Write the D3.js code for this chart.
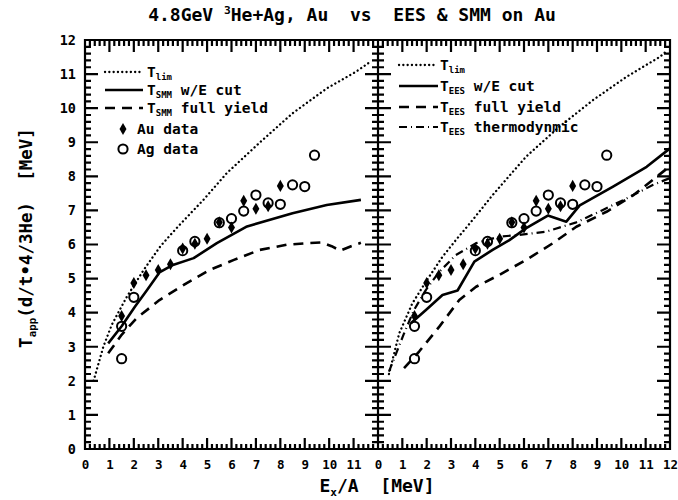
<!DOCTYPE html>
<html>
<head>
<meta charset="utf-8">
<script src="https://cdn.jsdelivr.net/npm/d3@7"></script>
<style>
    body { margin: 0; background: #fff; }
    text { font-family: "DejaVu Sans Mono", monospace; font-weight: bold; fill: #000; }
</style>
</head>
<body>
<div id="chart"></div>
<script>
const width = 678, height = 500;

// axis ticks
const majorTicks = d3.range(0, 13);
const minorTicks = d3.range(0, 60).map(i => i * 0.2).filter(v => Math.abs(v - Math.round(v)) > 0.01);
const leftXLabels = d3.range(0, 12);
const rightXLabels = d3.range(0, 13);
const yLabels = d3.range(0, 13);

// data points (same in both panels)
const auX = [1.5, 2.0, 2.5, 3.0, 3.5, 4.0, 4.5, 5.0, 5.5, 6.0, 6.5, 7.0, 7.5, 8.0];
const auT = [3.9, 4.87, 5.1, 5.25, 5.42, 5.88, 6.02, 6.17, 6.65, 6.5, 7.28, 7.05, 7.12, 7.72];
const agX = [1.5, 1.5, 2.0, 4.0, 4.5, 5.5, 6.0, 6.5, 7.0, 7.5, 8.0, 8.5, 9.0, 9.4];
const agT = [2.65, 3.6, 4.45, 5.82, 6.09, 6.64, 6.76, 6.98, 7.45, 7.22, 7.18, 7.75, 7.7, 8.62];

// left panel curves
const limLeftX = [0.35, 0.75, 1.1, 1.7, 2.4, 3.1, 3.8, 4.85, 5.8, 7.2, 8.5, 9.9, 11.1, 11.6];
const limLeftT = [2.0, 3.0, 3.65, 4.45, 5.25, 5.96, 6.52, 7.31, 8.09, 9.02, 9.85, 10.58, 11.07, 11.32];
const smmCutX = [0.95, 1.5, 2.05, 2.55, 3.05, 3.6, 4.45, 5.4, 6.6, 8.5, 9.9, 11.3];
const smmCutT = [3.1, 3.6, 4.18, 4.67, 5.18, 5.4, 5.6, 6.04, 6.52, 6.92, 7.16, 7.31];
const smmFullX = [0.95, 1.5, 2.1, 3.05, 4.15, 5.1, 6.1, 7.15, 8.25, 9.1, 9.7, 10.1, 10.45, 10.9, 11.3];
const smmFullT = [2.81, 3.35, 3.83, 4.37, 4.86, 5.25, 5.55, 5.84, 5.99, 6.04, 6.06, 5.95, 5.82, 5.95, 6.05];

// right panel curves
const limRightX = [0.45, 0.87, 1.41, 1.97, 2.65, 3.2, 3.89, 4.71, 6.09, 7.46, 8.84, 10.21, 11.59, 11.9];
const limRightT = [2.2, 3.39, 4.27, 4.91, 5.64, 6.13, 6.72, 7.45, 8.58, 9.46, 10.24, 10.92, 11.51, 11.7];
const eesCutX = [1.35, 1.97, 2.65, 3.27, 3.96, 4.71, 5.4, 6.09, 6.98, 7.74, 8.29, 9.66, 11.04, 12.0];
const eesCutT = [3.69, 4.08, 4.52, 4.65, 5.5, 5.84, 6.13, 6.48, 6.85, 6.67, 7.15, 7.7, 8.28, 8.82];
const eesFullX = [1.07, 1.69, 2.52, 3.34, 4.03, 4.99, 6.09, 7.19, 8.15, 9.39, 10.5, 11.3, 12.0];
const eesFullT = [2.37, 2.86, 3.59, 4.37, 4.76, 5.11, 5.55, 6.04, 6.52, 6.96, 7.45, 7.9, 8.3];
const eesThermoX = [0.45, 1.07, 1.48, 1.97, 2.52, 3.2, 4.03, 4.99, 5.81, 6.92, 8.15, 9.2, 10.21, 11.31, 12.0];
const eesThermoT = [2.27, 3.39, 4.08, 4.67, 5.2, 5.69, 6.04, 6.23, 6.28, 6.38, 6.65, 7.0, 7.35, 7.75, 7.95];

const styles = {
    dotted: {dash: "0.1,4.2", width: 2.3, cap: "round"},
    solid: {dash: null, width: 2.6, cap: "butt"},
    dashed: {dash: "10,7", width: 2.6, cap: "butt"},
    dashdot: {dash: "8,4,1,4", width: 2.2, cap: "butt"}
};

const y = d3.scaleLinear().domain([0, 12]).range([449, 40]);
const xLeft = d3.scaleLinear().domain([0, 12]).range([85, 378]);
const xRight = d3.scaleLinear().domain([0, 12]).range([378, 670]);

const svg = d3.select("#chart")
    .append("svg")
    .attr("width", width)
    .attr("height", height);

function zip(xs, ys) {
    return xs.map((v, i) => ({x: v, y: ys[i]}));
}

// frame, divider and all inward tick marks in one path
function framePath() {
    const p = d3.path();
    const top = y(12), bottom = y(0);
    p.rect(xLeft(0), top, xRight(12) - xLeft(0), bottom - top);
    p.moveTo(xRight(0), top);
    p.lineTo(xRight(0), bottom);

    [xLeft, xRight].forEach(x => {
        const x0 = x.range()[0], x1 = x.range()[1];
        [[majorTicks, 11, 13], [minorTicks, 5, 6]].forEach(([values, lx, ly]) => {
            values.forEach(v => {
                p.moveTo(x(v), bottom);
                p.lineTo(x(v), bottom - lx);
                p.moveTo(x(v), top);
                p.lineTo(x(v), top + lx + 1);
                p.moveTo(x0, y(v));
                p.lineTo(x0 + ly, y(v));
                p.moveTo(x1, y(v));
                p.lineTo(x1 - ly, y(v));
            });
        });
    });
    return p.toString();
}

function drawLabels(x, labels, isLeft) {
    svg.append("g")
        .attr("transform", "translate(0," + y(0) + ")")
        .call(d3.axisBottom(x).tickValues(labels).tickSize(0).tickPadding(11).tickFormat(d3.format("d")))
        .call(g => g.select(".domain").remove())
        .call(g => g.selectAll("text")
            .attr("font-family", "DejaVu Sans Mono")
            .attr("font-weight", "bold")
            .attr("font-size", 12.5));

    if (isLeft) {
        svg.append("g")
            .attr("transform", "translate(" + x.range()[0] + ",0)")
            .call(d3.axisLeft(y).tickValues(yLabels).tickSize(0).tickPadding(9).tickFormat(d3.format("d")))
            .call(g => g.select(".domain").remove())
            .call(g => g.selectAll("text")
                .attr("font-family", "DejaVu Sans Mono")
                .attr("font-weight", "bold")
                .attr("font-size", 13.5));
    }
}

function drawCurve(x, xs, ys, style) {
    const s = styles[style];
    svg.append("path")
        .datum(zip(xs, ys))
        .attr("fill", "none")
        .attr("stroke", "#000")
        .attr("stroke-width", s.width)
        .attr("stroke-linecap", s.cap)
        .attr("stroke-linejoin", "round")
        .attr("stroke-dasharray", s.dash)
        .attr("d", d3.line()
            .x(d => x(d.x))
            .y(d => y(d.y))
        );
}

function drawData(x) {
    svg.append("g")
        .selectAll("path")
        .data(zip(auX, auT))
        .enter()
        .append("path")
        .attr("transform", d => "translate(" + x(d.x) + "," + y(d.y) + ")")
        .attr("d", d3.symbol(d3.symbolDiamond, 42))
        .attr("fill", "#000");

    svg.append("g")
        .selectAll("circle")
        .data(zip(agX, agT))
        .enter()
        .append("circle")
        .attr("cx", d => x(d.x))
        .attr("cy", d => y(d.y))
        .attr("r", 4.6)
        .attr("fill", "none")
        .attr("stroke", "#000")
        .attr("stroke-width", 2);
}

// text with a small sub or superscript part: parts = [[text, "sub"|"sup"|null, dy], ...]
function richText(g, parts, size) {
    parts.forEach(p => {
        const t = g.append("tspan").text(p[0]);
        if (p[1] === "sub") {
            t.attr("font-size", size * 0.62).attr("dy", size * 0.22);
        } else if (p[1] === "sup") {
            t.attr("font-size", size * 0.62).attr("dy", -size * 0.4);
        } else {
            t.attr("font-size", size);
        }
        if (p[2]) {
            t.attr("dy", p[2]);
        }
    });
}

function legendLine(x1, x2, yy, style) {
    const s = styles[style];
    svg.append("line")
        .attr("x1", x1).attr("x2", x2)
        .attr("y1", yy).attr("y2", yy)
        .attr("stroke", "#000")
        .attr("stroke-width", s.width)
        .attr("stroke-linecap", s.cap)
        .attr("stroke-dasharray", s.dash);
}

function legendText(x, yy, parts) {
    const t = svg.append("text")
        .attr("x", x)
        .attr("y", yy + 5)
        .style("white-space", "pre");
    richText(t, parts, 14.5);
}

// frame with ticks
svg.append("path")
    .attr("d", framePath())
    .attr("fill", "none")
    .attr("stroke", "#000")
    .attr("stroke-width", 2.2);

// panels
drawLabels(xLeft, leftXLabels, true);
drawLabels(xRight, rightXLabels, false);

drawCurve(xLeft, limLeftX, limLeftT, "dotted");
drawCurve(xLeft, smmCutX, smmCutT, "solid");
drawCurve(xLeft, smmFullX, smmFullT, "dashed");
drawData(xLeft);

drawCurve(xRight, limRightX, limRightT, "dotted");
drawCurve(xRight, eesCutX, eesCutT, "solid");
drawCurve(xRight, eesFullX, eesFullT, "dashed");
drawCurve(xRight, eesThermoX, eesThermoT, "dashdot");
drawData(xRight);

// left legend
legendLine(105, 142, 72, "dotted");
legendText(147, 72, [["T", null], ["lim", "sub"]]);
legendLine(105, 143, 90, "solid");
legendText(147, 90, [["T", null], ["SMM", "sub"], [" w/E cut", null, -3]]);
legendLine(105, 143, 108, "dashed");
legendText(147, 108, [["T", null], ["SMM", "sub"], [" full yield", null, -3]]);
svg.append("path")
    .attr("transform", "translate(123,129)")
    .attr("d", d3.symbol(d3.symbolDiamond, 42))
    .attr("fill", "#000");
legendText(137, 129, [["Au data", null]]);
svg.append("circle")
    .attr("cx", 123).attr("cy", 149).attr("r", 4.6)
    .attr("fill", "none").attr("stroke", "#000").attr("stroke-width", 2);
legendText(137, 149, [["Ag data", null]]);

// right legend
legendLine(399, 436, 65, "dotted");
legendText(440, 65, [["T", null], ["lim", "sub"]]);
legendLine(399, 438, 86, "solid");
legendText(440, 86, [["T", null], ["EES", "sub"], [" w/E cut", null, -3]]);
legendLine(399, 438, 107, "dashed");
legendText(440, 107, [["T", null], ["EES", "sub"], [" full yield", null, -3]]);
legendLine(399, 438, 127, "dashdot");
legendText(440, 127, [["T", null], ["EES", "sub"], [" thermodynmic", null, -3]]);

// title
const title = svg.append("text")
    .attr("x", 352)
    .attr("y", 21)
    .attr("text-anchor", "middle")
    .style("white-space", "pre");
richText(title, [["4.8GeV ", null], ["3", "sup"], ["He+Ag, Au  vs  EES & SMM on Au", null, 7]], 18);

// x axis title
const xTitle = svg.append("text")
    .attr("x", 377)
    .attr("y", 492)
    .attr("text-anchor", "middle")
    .style("white-space", "pre");
richText(xTitle, [["E", null], ["x", "sub"], ["/A  [MeV]", null, -4]], 18);

// y axis title
const yTitle = svg.append("text")
    .attr("transform", "translate(32,238) rotate(-90)")
    .attr("text-anchor", "middle")
    .style("white-space", "pre");
richText(yTitle, [["T", null], ["app", "sub"], ["(d/t\u20224/3He)  [MeV]", null, -4]], 17.5);
</script>
</body>
</html>
